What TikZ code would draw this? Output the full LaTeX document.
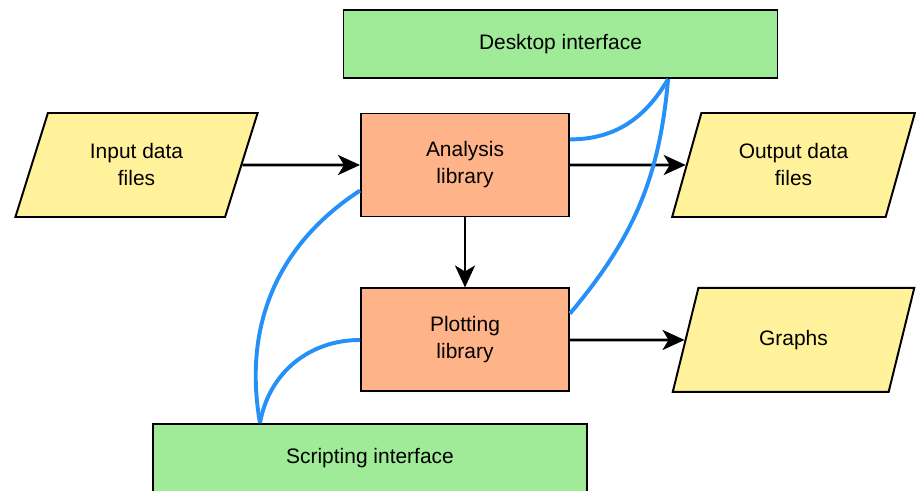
\documentclass[tikz,border=0pt]{standalone}
\usepackage{fontspec}
\setmainfont{Liberation Sans}
\usetikzlibrary{positioning,shapes.geometric,arrows.meta}

\definecolor{libfill}{HTML}{FFB388}
\definecolor{uifill}{HTML}{9FEB98}
\definecolor{datafill}{HTML}{FFF29B}
\definecolor{linkblue}{HTML}{2590F8}

\tikzset{
  lib/.style={draw, fill=libfill, line width=1.4pt, minimum width=5.2cm, minimum height=2.575cm, align=center},
  ui/.style={draw, fill=uifill, line width=1.4pt, minimum width=10.85cm, minimum height=1.7cm},
  data/.style={trapezium, trapezium left angle=70, trapezium right angle=110, trapezium stretches=true,
    draw, fill=datafill, line width=1.4pt, minimum width=6.075cm, minimum height=2.6cm, align=center},
  flow/.style={-{Stealth[length=5.5mm,width=5mm,inset=1.5mm]}, line width=2pt},
  link/.style={draw=linkblue, line width=2.8pt},
}

\begin{document}
\begin{tikzpicture}[font=\fontsize{14.9pt}{19.2pt}\selectfont]
      \useasboundingbox (0,0) rectangle (22.9,-12.275);

      \node[ui] (6) at (14.0125,-1.1) {Desktop interface};
      \node[lib] (2) at (11.625,-4.125) {Analysis\\library};
      \node[lib,below=1.75cm of 2] (4) {Plotting\\library};
      \node[data] (1) at (3.4125,-4.125) {Input data\\files};
      \node[data] (3) at (19.8375,-4.125) {Output data\\files};
      \node[data] (5) at (3 |- 4) {Graphs};
      \node[ui] (7) at (9.25,-11.45) {Scripting interface};

      \draw[flow] (1) -- (2);
      \draw[flow] (2) -- (3);
      \draw[flow] (2) -- (4);
      \draw[flow] (4) -- (5);

      \draw[link] ([yshift=0.64cm]2.east) to[out=0,in=-120] ([xshift=2.69cm]6.south);
      \draw[link] ([yshift=0.66cm]4.east) to[out=50,in=-95] ([xshift=2.69cm]6.south);
      \draw[link] ([yshift=-0.64cm]2.west) to[out=213,in=100] ([xshift=-2.75cm]7.north);
      \draw[link] (4.west) to[out=180,in=80] ([xshift=-2.75cm]7.north);
    \end{tikzpicture}
\end{document}
